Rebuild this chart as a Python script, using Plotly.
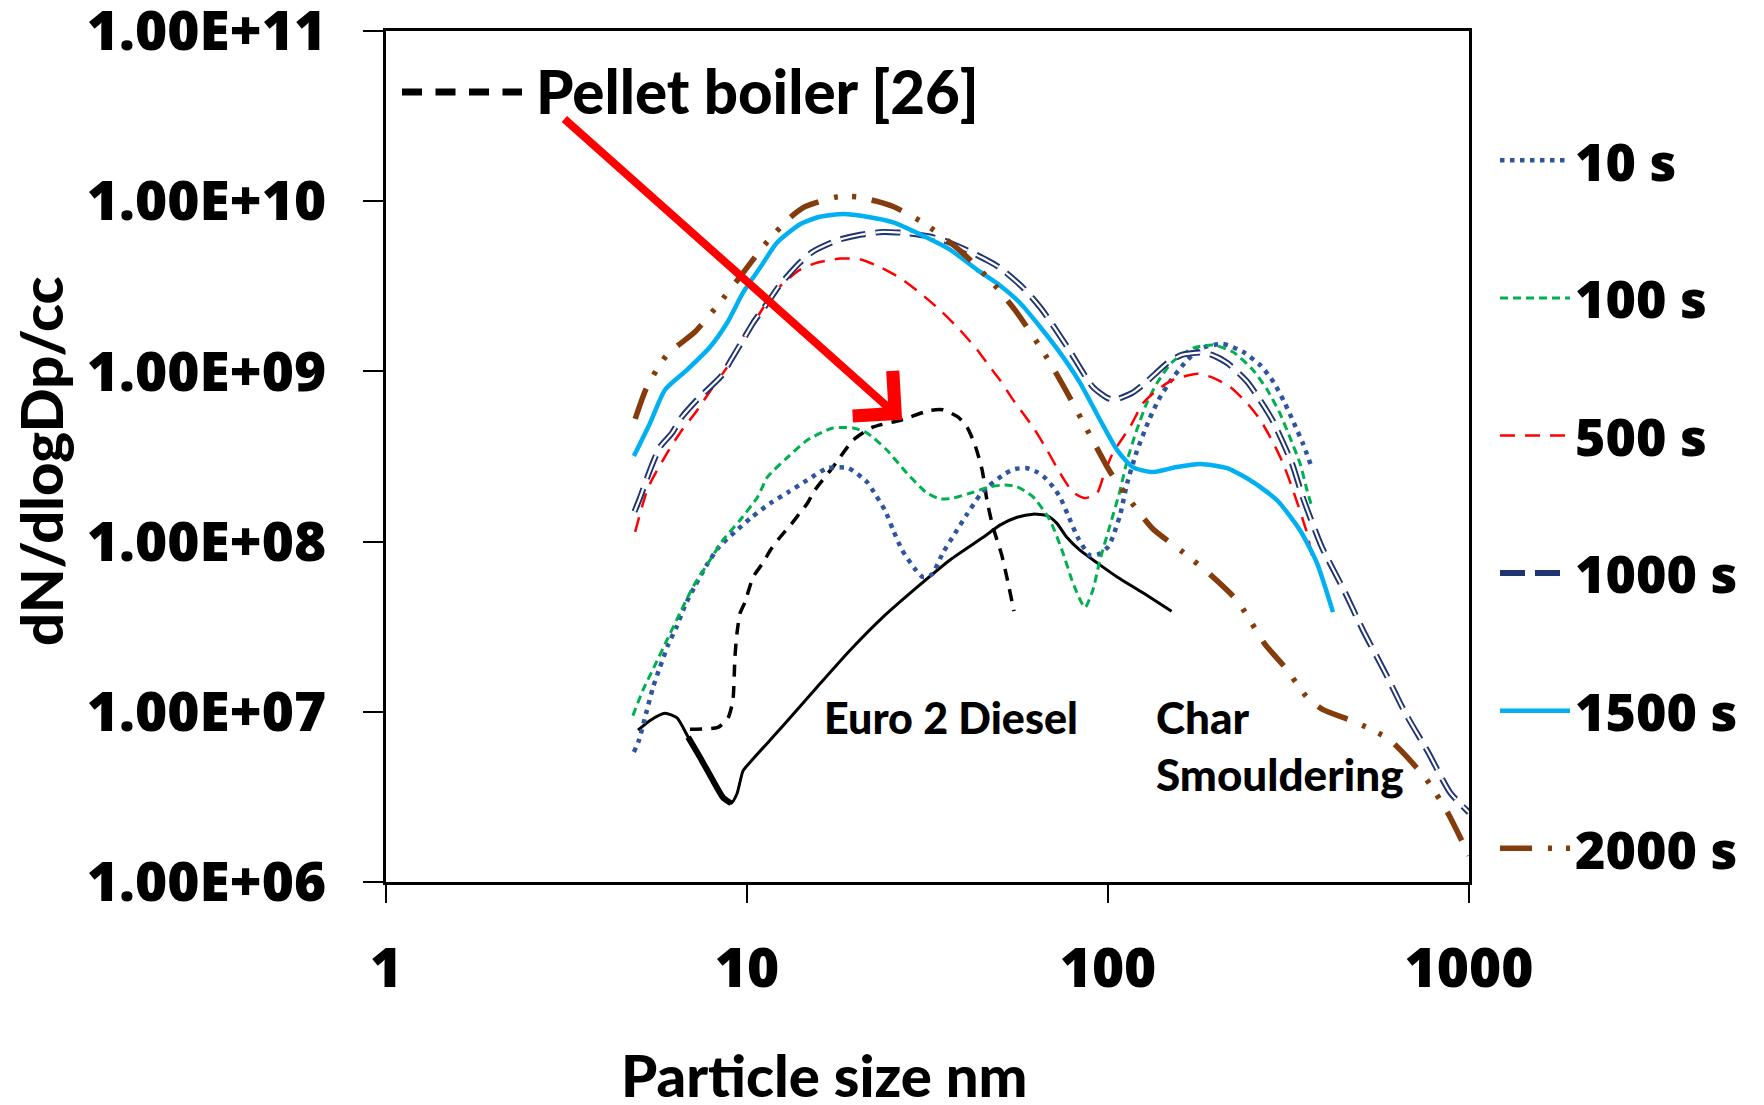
import numpy as np
import plotly.graph_objects as go

# Particle size distributions, dN/dlogDp (#/cc) against mobility diameter (nm)
size_10s = [4.86, 5.02, 5.28, 5.49, 5.74, 6.04, 6.4, 6.73, 7.18, 7.74, 8.36, 9.26, 10.3, 11.6, 13.0, 14.7,
            16.7, 19.1, 21.5, 22.3, 24.1, 25.4, 26.9, 29.2, 30.7, 32.5, 34.9, 37.7, 40.7, 44.2, 46.5, 51.8,
            55.3, 59.7, 63.6, 66.9, 70.4, 73.6, 77.5, 82.6, 89.2, 95, 100, 103, 108, 113, 120, 130, 138,
            149, 163, 180, 208, 237, 265, 288, 309, 327, 347, 365]
conc_10s = [5.8e6, 6.8e6, 1.02e7, 1.39e7, 1.83e7, 2.46e7, 3.2e7, 4.2e7, 5.5e7, 7.3e7, 9.3e7, 1.14e8, 1.39e8,
            1.68e8, 1.95e8, 2.3e8, 2.7e8, 2.7e8, 2.24e8, 2.0e8, 1.53e8, 1.17e8, 8.9e7, 6.9e7, 6.2e7, 6.4e7,
            8.6e7, 1.12e8, 1.45e8, 1.88e8, 2.1e8, 2.5e8, 2.67e8, 2.7e8, 2.56e8, 2.37e8, 2.1e8, 1.83e8, 1.43e8,
            1.05e8, 8.3e7, 8.5e7, 9.3e7, 1.06e8, 1.43e8, 2.2e8, 3.36e8, 5.2e8, 6.8e8, 8.8e8, 1.12e9, 1.36e9,
            1.45e9, 1.3e9, 1.08e9, 8.6e8, 6.5e8, 5.0e8, 3.75e8, 2.8e8]

size_100s = [4.83, 5.15, 5.56, 6.0, 6.52, 7.08, 7.9, 8.58, 9.57, 10.7, 11.4, 12.9, 14.7, 17.3, 19.7, 21.5,
             24.4, 27.7, 31.5, 34.3, 37.2, 42.3, 47.1, 51.8, 56, 62, 69, 75, 80, 86.3, 90.8, 95, 101, 108,
             113, 120, 128, 137, 151, 172, 195, 222, 252, 276, 299, 319, 340, 356, 367]
conc_100s = [9.5e6, 1.34e7, 1.88e7, 2.64e7, 3.8e7, 5.4e7, 7.8e7, 1.02e8, 1.34e8, 1.83e8, 2.4e8, 3.1e8,
             3.95e8, 4.65e8, 4.65e8, 4.35e8, 3.45e8, 2.53e8, 1.93e8, 1.78e8, 1.8e8, 1.95e8, 2.1e8, 2.15e8,
             2.1e8, 1.83e8, 1.34e8, 8.6e7, 5.7e7, 4.1e7, 5.2e7, 7.8e7, 1.22e8, 2.0e8, 3.0e8, 4.5e8, 6.5e8,
             8.6e8, 1.14e9, 1.37e9, 1.43e9, 1.3e9, 1.02e9, 7.8e8, 5.7e8, 4.1e8, 2.9e8, 2.0e8, 1.6e8]

size_500s = [4.9, 5.32, 6.0, 6.52, 7.27, 8.05, 8.81, 9.75, 10.7, 11.6, 12.6, 14.0, 15.6, 18.1, 20.6, 23.4,
             26.5, 30.1, 34.2, 38.9, 43.4, 47.1, 50.2, 54.6, 62, 67.8, 73.6, 80, 86.3, 93.3, 97, 103, 115,
             125, 137, 151, 177, 195, 218, 243, 264, 287, 305, 323, 356, 367]
conc_500s = [1.14e8, 2.07e8, 3.3e8, 4.35e8, 5.9e8, 8.1e8, 1.06e9, 1.6e9, 2.1e9, 2.74e9, 3.3e9, 3.95e9,
             4.35e9, 4.6e9, 4.55e9, 4.1e9, 3.55e9, 2.9e9, 2.3e9, 1.75e9, 1.34e9, 1.06e9, 8.9e8, 6.8e8, 4.7e8,
             3.45e8, 2.53e8, 1.95e8, 1.8e8, 1.93e8, 2.4e8, 3.3e8, 4.7e8, 6.5e8, 7.8e8, 8.9e8, 9.7e8, 9.2e8,
             8.1e8, 6.5e8, 5.2e8, 3.8e8, 2.9e8, 2.1e8, 1.12e8, 8.3e7]

size_1000s = [4.88, 5.05, 5.39, 5.74, 6.2, 6.6, 7.27, 8.53, 8.97, 9.87, 10.4, 11.4, 12.3, 14.0, 15.2, 17.8,
              20.6, 23.8, 27.7, 32.1, 35.8, 41.5, 46.2, 50.2, 58.2, 65.7, 77.5, 90.8, 99.4, 104, 117, 128,
              146, 160, 180, 194, 214, 243, 260, 285, 323, 347, 392, 448, 509, 585, 665, 770, 886, 1000]
conc_1000s = [1.5e8, 1.8e8, 2.64e8, 3.6e8, 4.35e8, 5.4e8, 6.8e8, 9.5e8, 1.14e9, 1.6e9, 1.93e9, 2.53e9,
              3.2e9, 4.35e9, 5.05e9, 5.9e9, 6.35e9, 6.6e9, 6.5e9, 6.2e9, 5.8e9, 5.05e9, 4.5e9, 4.06e9, 3.1e9,
              2.3e9, 1.37e9, 8.1e8, 7.0e8, 6.8e8, 7.5e8, 8.7e8, 1.12e9, 1.25e9, 1.29e9, 1.25e9, 1.12e9,
              8.7e8, 7.1e8, 5.2e8, 2.9e8, 1.8e8, 9.2e7, 5.3e7, 3.0e7, 1.71e7, 9.9e6, 5.8e6, 3.36e6, 2.56e6]

size_1500s = [4.86, 5.39, 5.93, 6.82, 7.9, 8.81, 9.75, 10.9, 12.1, 14.0, 15.9, 18.5, 21.5, 25.4, 30.1, 36.5,
              43.4, 50.2, 57.0, 64.8, 73.6, 83.6, 95, 106, 117, 133, 155, 180, 214, 252, 294, 340, 379, 420]
conc_1500s = [3.18e8, 4.98e8, 7.8e8, 1.02e9, 1.39e9, 1.93e9, 2.9e9, 4.1e9, 5.7e9, 7.3e9, 8.1e9, 8.4e9,
              8.1e9, 7.5e9, 6.4e9, 5.2e9, 3.95e9, 3.2e9, 2.53e9, 1.83e9, 1.29e9, 8.6e8, 5.2e8, 3.45e8,
              2.74e8, 2.56e8, 2.74e8, 2.86e8, 2.7e8, 2.24e8, 1.75e8, 1.17e8, 7.5e7, 3.85e7]

size_2000s = [4.90, 5.28, 6.0, 7.18, 8.31, 9.75, 11.07, 13.06, 14.5, 17.8, 20.2, 22.8, 25.4, 30.7, 37.4,
              40.9, 48.0, 56.0, 67.8, 76.5, 89.8, 101, 115, 133, 161, 192, 228, 272, 309, 358, 394, 484,
              600, 756, 869, 1000]
conc_2000s = [5.26e8, 8.1e8, 1.25e9, 1.71e9, 2.46e9, 3.79e9, 5.4e9, 7.9e9, 9.3e9, 1.06e10, 1.06e10, 1.0e10,
              9.3e9, 7.5e9, 5.5e9, 4.65e9, 3.3e9, 2.21e9, 1.2e9, 7.7e8, 4.1e8, 2.6e8, 1.75e8, 1.19e8, 8.7e7,
              6.4e7, 4.5e7, 2.5e7, 1.83e7, 1.2e7, 1.03e7, 8.7e6, 6.9e6, 4.1e6, 2.6e6, 1.43e6]

# Reference sources
size_diesel = [4.99, 5.39, 5.93, 6.4, 6.87, 7.41, 8.05, 8.58, 9.03, 9.38, 9.75, 10.2, 12.6, 15.6, 19.3, 23.8,
               29.6, 36.5, 45.1, 50.2, 56, 62, 67.8, 72.2, 76.9, 83.6, 93.3, 106, 125, 150]
conc_diesel = [7.8e6, 8.9e6, 9.8e6, 9.2e6, 7.1e6, 5.4e6, 3.95e6, 3.14e6, 2.9e6, 3.3e6, 4.5e6, 5.05e6, 8.3e6,
               1.39e7, 2.3e7, 3.6e7, 5.4e7, 7.8e7, 1.06e8, 1.25e8, 1.39e8, 1.45e8, 1.42e8, 1.28e8, 1.06e8,
               8.9e7, 7.5e7, 6.2e7, 5.0e7, 3.9e7]

size_pellet = [6.95, 8.31, 8.86, 9.14, 9.26, 9.38, 9.57, 9.87, 10.4, 11.07, 11.6, 12.3, 13.2, 14.0, 14.7,
               15.4, 17.3, 19.7, 22.3, 26.9, 32.1, 34.9, 38.4, 40.7, 42.8, 44.8, 46.2, 48.0, 50.8, 52.8, 54.9]
conc_pellet = [7.9e6, 8.1e6, 9.2e6, 1.17e7, 2.1e7, 2.9e7, 3.8e7, 4.4e7, 6.2e7, 7.5e7, 8.9e7, 1.05e8, 1.25e8,
               1.47e8, 1.68e8, 2.0e8, 2.74e8, 3.95e8, 4.7e8, 5.2e8, 5.9e8, 5.95e8, 5.4e8, 4.7e8, 3.7e8,
               2.64e8, 1.75e8, 1.22e8, 8.3e7, 5.8e7, 3.9e7]

y_tick_vals = [1e6, 1e7, 1e8, 1e9, 1e10, 1e11]
y_tick_text = ["1.00E+06", "1.00E+07", "1.00E+08", "1.00E+09", "1.00E+10", "1.00E+11"]
x_tick_vals = [1, 10, 100, 1000]
x_tick_text = ["1", "10", "100", "1000"]

TICK_FONT = dict(family="Open Sans", size=55, weight=800, color="black")
LABEL_FONT = "Lato"

# plot-area geometry in pixels
PLOT_L, PLOT_R, PLOT_T, PLOT_B = 386, 1469, 31, 882
PLOT_W, PLOT_H = PLOT_R - PLOT_L, PLOT_B - PLOT_T


def px_x(px):
    return (px - PLOT_L) / PLOT_W


def px_y(py):
    return (PLOT_B - py) / PLOT_H


fig = go.Figure()


def add_line(x, y, name, color, width, dash, legend=True, group=None):
    fig.add_trace(go.Scatter(
        x=x, y=y, mode="lines", name=name,
        line=dict(color=color, width=width, dash=dash, shape="spline", smoothing=0.6),
        showlegend=legend, legendgroup=group or name, hoverinfo="skip",
    ))


add_line(size_diesel, conc_diesel, "Euro 2 Diesel", "black", 3, "solid", legend=False)
# heavier stroke through the nucleation-mode trough
add_line(size_diesel[4:9], conc_diesel[4:9], "Euro 2 Diesel", "black", 6, "solid", legend=False, group="diesel")
add_line(size_pellet, conc_pellet, "Pellet boiler [26]", "black", 3.5, "12px,9px", legend=False)

add_line(size_10s, conc_10s, "10 s", "#2F55A0", 4.5, "4.5px,5.5px")
add_line(size_100s, conc_100s, "100 s", "#00B050", 3, "8px,5px")
add_line(size_500s, conc_500s, "500 s", "#FF0000", 2.5, "15px,10px")
# compound (double) line: navy outline with a white core
add_line(size_1000s, conc_1000s, "1000 s", "#1F3470", 6, "25px,10px")
add_line(size_1000s, conc_1000s, "1000 s", "white", 2.2, "25px,10px", legend=False, group="1000 s")
add_line(size_1500s, conc_1500s, "1500 s", "#00B0F0", 4.5, "solid")
add_line(size_2000s, conc_2000s, "2000 s", "#843C0C", 5.5, "32px,16px,4px,14px,4px,16px")

axis_common = dict(
    type="log", showline=True, linecolor="black", linewidth=2.5, mirror=True,
    ticks="outside", tickcolor="black", tickwidth=1.5, showgrid=False, zeroline=False,
    tickfont=TICK_FONT, ticklabeloverflow="allow",
)

fig.update_xaxes(range=[0, 3], tickvals=x_tick_vals, ticktext=x_tick_text, ticklen=18,
                 ticklabelstandoff=18, **axis_common)
fig.update_yaxes(range=[6, 11], tickvals=y_tick_vals, ticktext=y_tick_text, ticklen=20,
                 ticklabelstandoff=26, **axis_common)

# arrow pointing at the pellet-boiler mode
tip_idx = 19
fig.add_annotation(
    x=np.log10(size_pellet[tip_idx]), y=np.log10(conc_pellet[tip_idx]),
    ax=np.log10(3.09), ay=np.log10(3.1e10), xref="x", yref="y", axref="x", ayref="y",
    text="", showarrow=True, arrowhead=4, arrowsize=1.45, arrowwidth=8, arrowcolor="#FF0000",
)

BOLD_LABEL = dict(family=LABEL_FONT, weight=900, color="black")

fig.add_annotation(x=px_x(534), y=px_y(91), xref="paper", yref="paper",
                   text="Pellet boiler [26]", showarrow=False, xanchor="left", yanchor="middle",
                   font=dict(size=60, **BOLD_LABEL))
fig.add_shape(type="line", xref="paper", yref="paper",
              x0=px_x(402), x1=px_x(522), y0=px_y(92), y1=px_y(92),
              line=dict(color="black", width=7, dash="20px,13.5px"))

fig.add_annotation(x=px_x(822), y=px_y(717), xref="paper", yref="paper",
                   text="Euro 2 Diesel", showarrow=False, xanchor="left", yanchor="middle",
                   font=dict(size=43, **BOLD_LABEL))
fig.add_annotation(x=px_x(1154), y=px_y(745), xref="paper", yref="paper",
                   text="Char<br>Smouldering", showarrow=False, xanchor="left", yanchor="middle",
                   align="left", font=dict(size=44, **BOLD_LABEL))

# axis titles
fig.add_annotation(x=px_x(824), y=px_y(1074), xref="paper", yref="paper",
                   text="Particle size nm", showarrow=False, xanchor="center", yanchor="middle",
                   font=dict(size=58, **BOLD_LABEL))
fig.add_annotation(x=px_x(40), y=px_y(461), xref="paper", yref="paper",
                   text="dN/dlogDp/cc", showarrow=False, textangle=-90,
                   xanchor="center", yanchor="middle",
                   font=dict(size=58, **BOLD_LABEL))

fig.update_layout(
    width=1764, height=1105,
    margin=dict(l=PLOT_L, r=1764 - PLOT_R, t=PLOT_T, b=1105 - PLOT_B, autoexpand=False),
    paper_bgcolor="white", plot_bgcolor="white",
    showlegend=True,
    legend=dict(
        x=px_x(1495), xanchor="left", y=px_y(120), yanchor="top",
        font=dict(family="Open Sans", size=52, weight=800, color="black"),
        tracegroupgap=67, bgcolor="rgba(0,0,0,0)", itemwidth=70,
    ),
)

fig.write_html("out.html", config={"displayModeBar": False})
